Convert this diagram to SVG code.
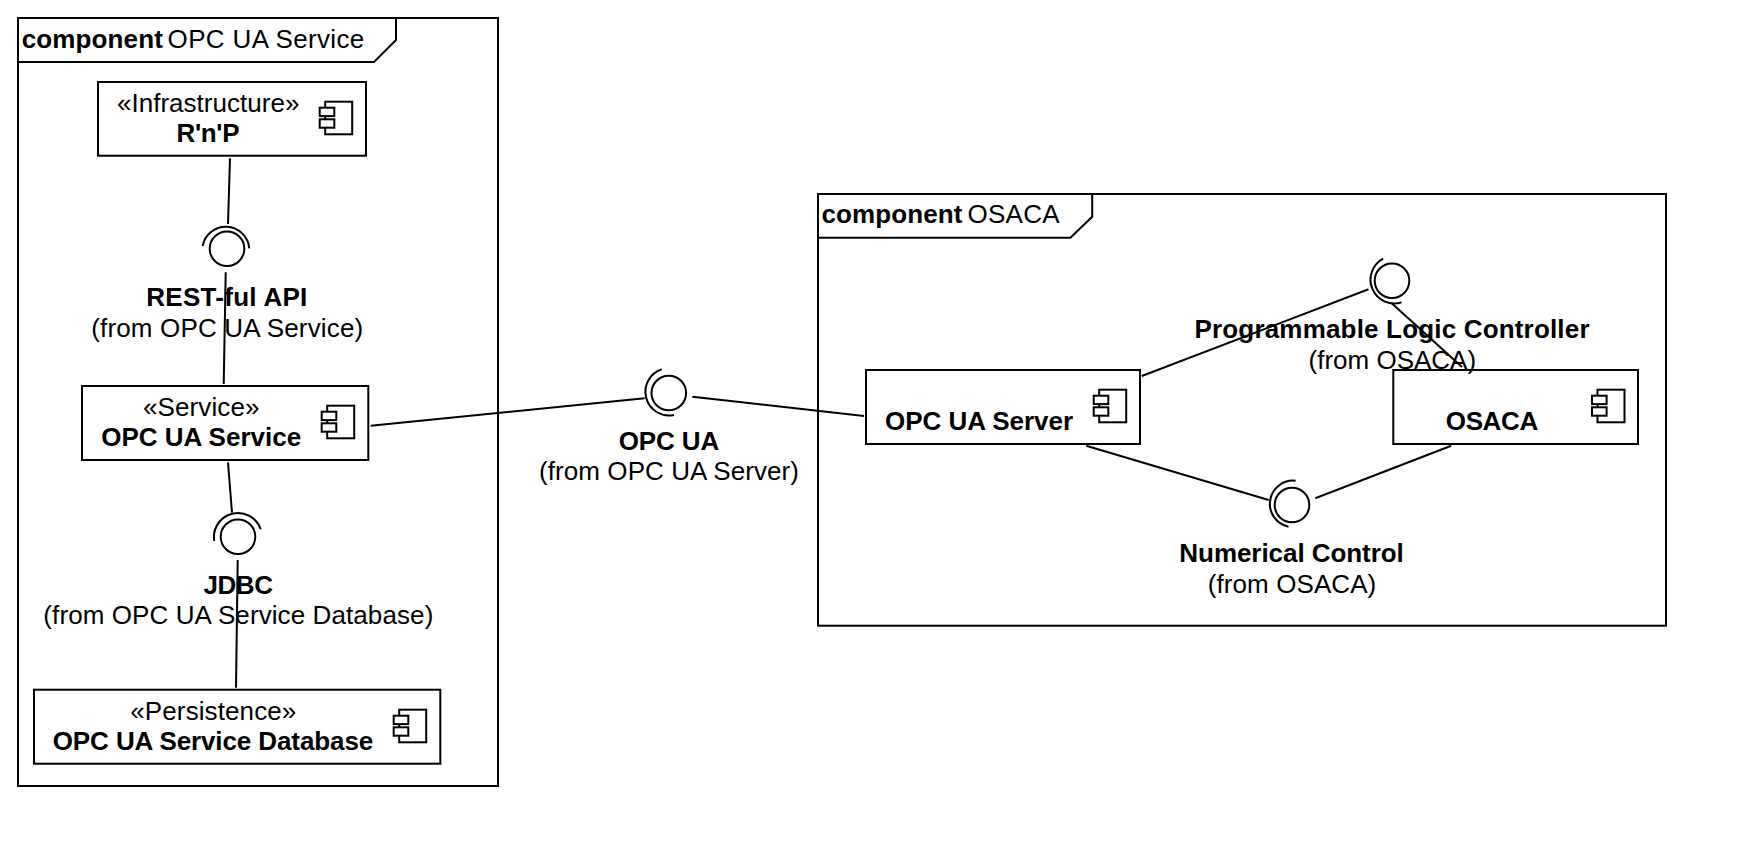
<svg xmlns="http://www.w3.org/2000/svg" width="1748" height="868" viewBox="0 0 1748 868">
<style>
.s{fill:none;stroke:#000;stroke-width:2}
.b{fill:#fff;stroke:#000;stroke-width:2}
text{font-family:"Liberation Sans",Arial,sans-serif;font-size:26px;fill:#000}
.t{font-weight:bold}
.m{text-anchor:middle}
</style>
<defs>
<g id="icon"><rect class="s" x="5.5" y="0" width="27" height="32.6"/><rect class="b" x="0" y="6" width="14.6" height="8.4"/><rect class="b" x="0" y="17.6" width="14.6" height="8.4"/></g>
</defs>
<rect width="1748" height="868" fill="#fff"/>
<g id="frame-service"><rect class="s" x="18" y="18" width="480" height="768"/><path class="s" d="M18 62H374L396 40V18"/><text class="t" x="21.8" y="48" textLength="141">component</text><text x="167.6" y="48" textLength="196.6">OPC UA Service</text></g>
<g id="frame-osaca"><rect class="s" x="818" y="194" width="848" height="431.7"/><path class="s" d="M818 237.7H1070.4L1092.2 216.7V194"/><text class="t" x="821.5" y="223.3" textLength="141">component</text><text x="967.5" y="223.3" textLength="92">OSACA</text></g>
<g id="connectors">
<path class="s" d="M230 158.3L228 224"/>
<path class="s" d="M225.7 272.3L223.7 384"/>
<path class="s" d="M228 462.3L232 512.7"/>
<path class="s" d="M237.7 560L236 687.7"/>
<path class="s" d="M370.7 425.7L644.6 398.3"/>
<path class="s" d="M692.4 396.7L864 416"/>
<path class="s" d="M1141.8 376L1368.5 289.3"/>
<path class="s" d="M1391.7 303.3L1462 367"/>
<path class="s" d="M1086.2 445.7L1268.7 500"/>
<path class="s" d="M1315.3 498.3L1451.2 445.7"/>
</g>
<g id="rnp"><rect class="s" x="98" y="82" width="268" height="73.7"/><text class="m" x="208.2" y="112" textLength="182.5">«Infrastructure»</text><text class="t m" x="208" y="142" textLength="63">R'n'P</text><use href="#icon" x="319.7" y="101.7"/></g>
<g id="service"><rect class="s" x="82" y="386" width="286.3" height="74"/><text class="m" x="201.2" y="415.6" textLength="116.5">«Service»</text><text class="t m" x="201.2" y="446" textLength="200">OPC UA Service</text><use href="#icon" x="321.7" y="405.7"/></g>
<g id="database"><rect class="s" x="34" y="689.7" width="406.3" height="74"/><text class="m" x="213.3" y="719.6" textLength="166">«Persistence»</text><text class="t m" x="213" y="750" textLength="320.5">OPC UA Service Database</text><use href="#icon" x="393.7" y="709.7"/></g>
<g id="server"><rect class="s" x="866" y="370" width="274" height="74"/><text class="t m" x="979" y="429.5" textLength="188">OPC UA Server</text><use href="#icon" x="1093.7" y="389.7"/></g>
<g id="osaca"><rect class="s" x="1393.3" y="370" width="244.7" height="74"/><text class="t m" x="1492" y="429.5" textLength="92.5">OSACA</text><use href="#icon" x="1592" y="389.7"/></g>
<g id="if-rest"><circle class="s" cx="227" cy="248.7" r="17.3"/><path class="s" d="M202.6 246A23.6 23.6 0 0 1 249.3 248.3"/><text class="t m" x="226.8" y="306.3" textLength="161">REST-ful API</text><text class="m" x="227.2" y="337" textLength="272">(from OPC UA Service)</text></g>
<g id="if-jdbc"><circle class="s" cx="238" cy="536.7" r="17.3"/><path class="s" d="M214.3 541A24 24 0 0 1 260.7 529.3"/><text class="t m" x="238.2" y="593.6" textLength="69.5">JDBC</text><text class="m" x="238.3" y="624" textLength="390">(from OPC UA Service Database)</text></g>
<g id="if-opcua"><circle class="s" cx="668.8" cy="393" r="17.3"/><path class="s" d="M661.7 369.3A23.7 23.7 0 0 0 674 415"/><text class="t m" x="669" y="449.8" textLength="100.5">OPC UA</text><text class="m" x="669" y="480" textLength="260">(from OPC UA Server)</text></g>
<g id="if-plc"><circle class="s" cx="1392" cy="280.8" r="17.3"/><path class="s" d="M1383.2 258.7A23.8 23.8 0 0 0 1401.6 302.4"/><text class="t m" x="1392" y="338" textLength="395">Programmable Logic Controller</text><text class="m" x="1392.3" y="368.6" textLength="167.5">(from OSACA)</text></g>
<g id="if-nc"><circle class="s" cx="1292" cy="505" r="17.3"/><path class="s" d="M1295.6 480.7A23.3 23.3 0 0 0 1288.5 526.7"/><text class="t m" x="1291.6" y="561.7" textLength="224.5">Numerical Control</text><text class="m" x="1292" y="592.5" textLength="168.5">(from OSACA)</text></g>
</svg>
